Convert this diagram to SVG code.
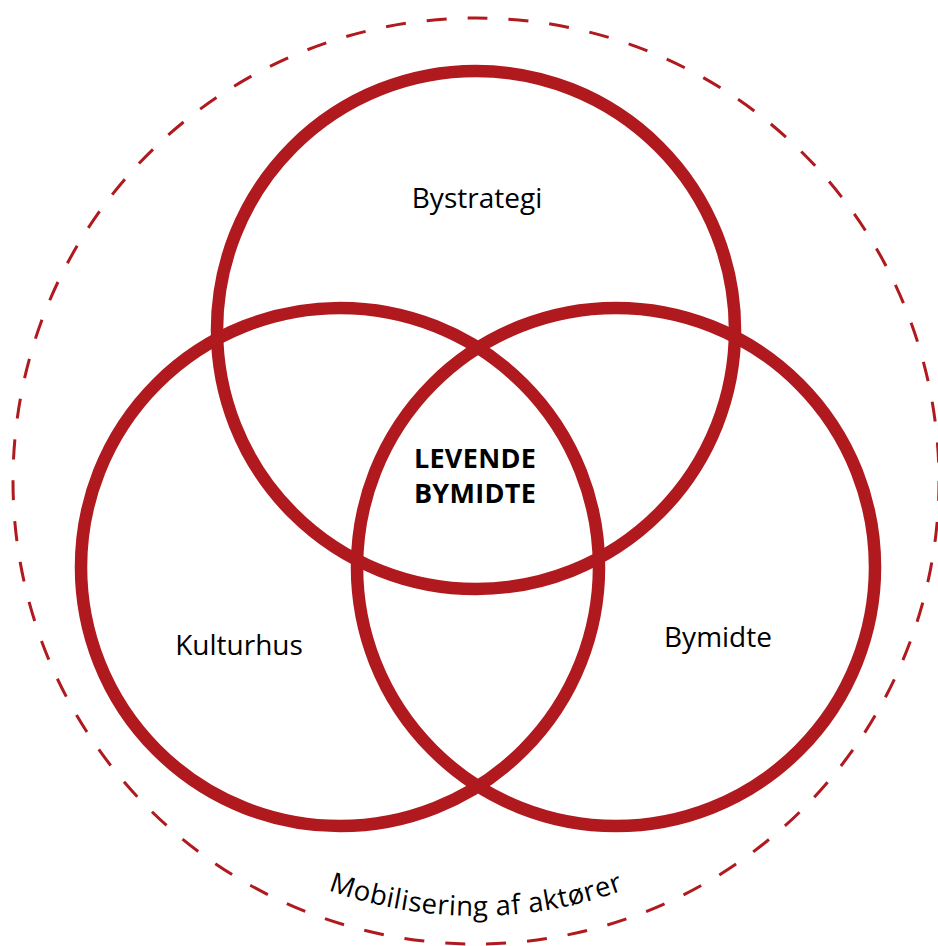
<svg xmlns="http://www.w3.org/2000/svg" width="938" height="946" viewBox="0 0 938 946">
<style>
.ring{fill:none;stroke:#B0191E;stroke-width:12.5}
.dash{fill:none;stroke:#B0191E;stroke-width:3;stroke-dasharray:20 21}
.lbl{font-family:"Open Sans",Lato,sans-serif;font-size:28px;fill:#000;text-anchor:middle}
.core{font-family:"Open Sans",Lato,sans-serif;font-size:27px;font-weight:bold;fill:#000;text-anchor:middle;letter-spacing:0.3px}
</style>
<defs>
<path id="arc" d="M 40 480 A 436 436 0 0 0 912 480"/>
</defs>
<rect width="938" height="946" fill="#fff"/>
<g id="outer">
<circle class="dash" cx="476" cy="481" r="463"/>
<text class="lbl" style="font-size:27.5px;letter-spacing:0.5px"><textPath href="#arc" startOffset="50%">Mobilisering af aktører</textPath></text>
</g>
<g id="bystrategi">
<circle class="ring" cx="476" cy="330" r="259"/>
<text class="lbl" x="477" y="208">Bystrategi</text>
</g>
<g id="kulturhus">
<circle class="ring" cx="340" cy="567" r="259"/>
<text class="lbl" x="239" y="655">Kulturhus</text>
</g>
<g id="bymidte">
<circle class="ring" cx="616" cy="567" r="259"/>
<text class="lbl" x="718" y="647">Bymidte</text>
</g>
<g id="center">
<text class="core" x="475" y="468">LEVENDE</text>
<text class="core" x="475" y="503">BYMIDTE</text>
</g>
<g id="connectors"></g>
</svg>
